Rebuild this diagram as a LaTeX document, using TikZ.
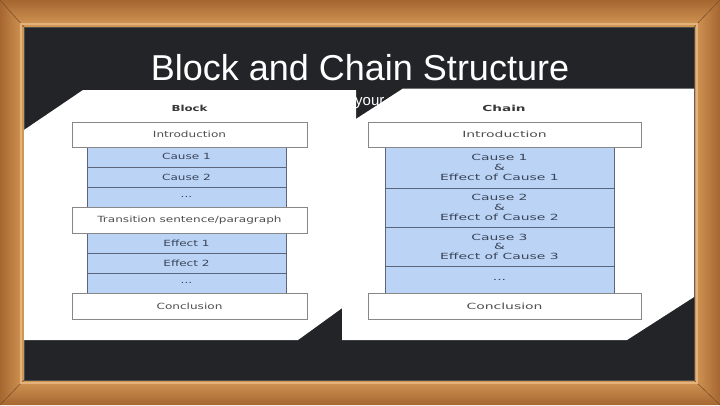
\documentclass[tikz,border=0pt]{standalone}
\usepackage{fontspec}
\newfontfamily\titlefont{Liberation Sans}
\newfontfamily\diagfont[FakeStretch=1.42]{DejaVu Sans}
\newfontfamily\diagwide[FakeStretch=1.64]{DejaVu Sans}
\definecolor{board}{RGB}{34,36,39}
\definecolor{wooddark}{RGB}{165,102,48}
\definecolor{woodlight}{RGB}{212,152,86}
\definecolor{bevel}{RGB}{226,180,124}
\definecolor{bluefill}{RGB}{187,212,246}
\definecolor{blueline}{RGB}{90,100,122}
\definecolor{boxline}{RGB}{135,135,135}
\definecolor{boxtext}{RGB}{78,78,78}
\definecolor{bluetext}{RGB}{58,68,88}
\tikzset{
  wbox/.style={draw=boxline, line width=1pt, fill=white, inner sep=0pt, text=boxtext,
    font=\diagfont\fontsize{8.5}{9.5}\selectfont, align=center},
  brow/.style={draw=blueline, line width=0.8pt, fill=bluefill, inner sep=0pt, text=bluetext,
    font=\diagfont\fontsize{8.5}{9.6}\selectfont, align=center},
  widefont/.style={font=\diagwide\fontsize{8.5}{9.6}\selectfont},
  hdr/.style={text=black!78, font=\diagfont\bfseries\fontsize{8.3}{9}\selectfont, anchor=base},
  panel/.style={fill=white, draw=none}
}
\begin{document}
\begin{tikzpicture}[x=1pt,y=-1pt]
\useasboundingbox (0,0) rectangle (720,405);
% wooden frame
\shade[top color=wooddark, bottom color=woodlight] (0,0) -- (720,0) -- (694,27) -- (24,27) -- cycle;
\shade[top color=woodlight, bottom color=wooddark] (0,405) -- (24,380) -- (694,380) -- (720,405) -- cycle;
\shade[left color=wooddark, right color=woodlight] (0,0) -- (24,27) -- (24,380) -- (0,405) -- cycle;
\shade[left color=woodlight, right color=wooddark] (720,0) -- (694,27) -- (694,380) -- (720,405) -- cycle;
\draw[wooddark!75!black, line width=0.6pt] (0,0) -- (24,27) (720,0) -- (694,27) (0,405) -- (24,380) (720,405) -- (694,380);
\draw[bevel, line width=1.5pt] (21,24) rectangle (697,383);
% board
\fill[board] (24,27) rectangle (694,380);
\draw[black!70, line width=0.8pt] (24,27) rectangle (694,380);
% partially hidden text
\node[text=white, font=\titlefont\fontsize{15}{15}\selectfont, anchor=base west, inner sep=0pt] (your) at (355,105) {your};
% white panels
\fill[panel] (83,90) -- (356,90) -- (356,298) -- (298,340) -- (24,340) -- (24,130) -- cycle;
\fill[panel] (403,88.5) -- (694,88.5) -- (694,297) -- (627,340) -- (342,340) -- (342,128) -- cycle;
% title
\node[text=white, font=\titlefont\fontsize{36}{36}\selectfont, anchor=base, inner sep=0pt] (title) at (360,80) {Block and Chain Structure};
% Block diagram
\node[hdr] (bhead) at (189.5,111) {Block};
\node[brow, minimum width=199pt, minimum height=21pt] (bc1) at (186.5,156.5) {Cause 1};
\node[brow, minimum width=199pt, minimum height=20pt] (bc2) at (186.5,177) {Cause 2};
\node[brow, minimum width=199pt, minimum height=20pt] (bc3) at (186.5,197) {...};
\node[brow, minimum width=199pt, minimum height=20pt] (be1) at (186.5,243) {Effect 1};
\node[brow, minimum width=199pt, minimum height=20pt] (be2) at (186.5,263) {Effect 2};
\node[brow, minimum width=199pt, minimum height=20pt] (be3) at (186.5,283) {...};
\node[wbox, minimum width=235pt, minimum height=25pt] (bintro) at (189.5,134.5) {Introduction};
\node[wbox, minimum width=235pt, minimum height=26pt] (btrans) at (189.5,220) {Transition sentence/paragraph};
\node[wbox, minimum width=235pt, minimum height=26pt] (bconc) at (189.5,306) {Conclusion};
% Chain diagram
\node[hdr, font=\diagwide\bfseries\fontsize{8.3}{9}\selectfont] (chead) at (504,111) {Chain};
\node[brow, widefont, minimum width=229pt, minimum height=41pt] (cc1) at (499.5,167.5) {Cause 1\\\&\\Effect of Cause 1};
\node[brow, widefont, minimum width=229pt, minimum height=39pt] (cc2) at (499.5,207.5) {Cause 2\\\&\\Effect of Cause 2};
\node[brow, widefont, minimum width=229pt, minimum height=39pt] (cc3) at (499.5,246.5) {Cause 3\\\&\\Effect of Cause 3};
\node[brow, widefont, minimum width=229pt, minimum height=27pt] (cc4) at (499.5,279.5) {...};
\node[wbox, widefont, minimum width=273pt, minimum height=25pt] (cintro) at (504.5,134.5) {Introduction};
\node[wbox, widefont, minimum width=273pt, minimum height=26pt] (cconc) at (504.5,306) {Conclusion};
\end{tikzpicture}
\end{document}
